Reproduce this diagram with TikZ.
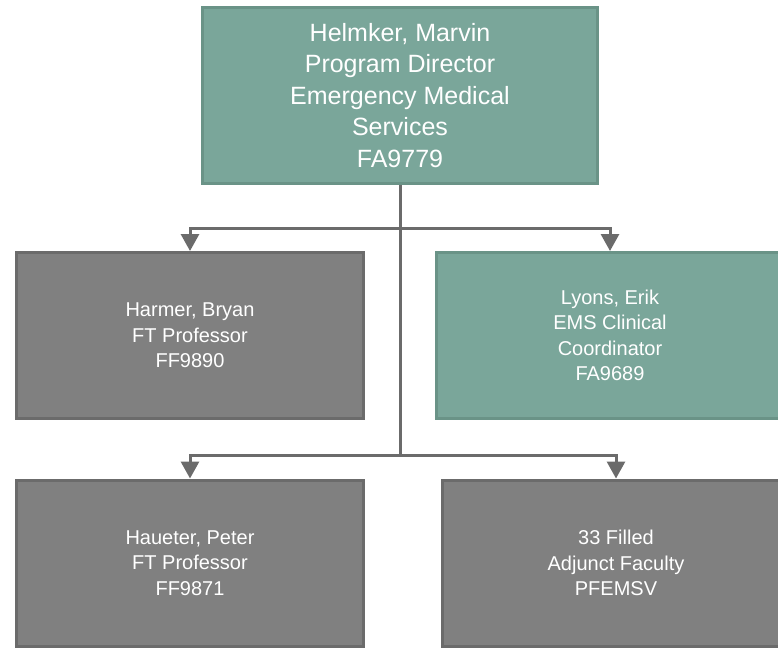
\documentclass[tikz,border=0pt]{standalone}
\usepackage{fontspec}
\setmainfont{Liberation Sans}
\usetikzlibrary{arrows.meta}
\definecolor{tealfill}{HTML}{7AA69A}
\definecolor{tealedge}{HTML}{6A9387}
\definecolor{grayfill}{HTML}{808080}
\definecolor{grayedge}{HTML}{6B6B6B}
\definecolor{linkcol}{HTML}{6B6B6B}
\tikzset{
  orgbox/.style={rectangle, line width=3pt, text=white, align=center, inner sep=0pt},
  tealbox/.style={orgbox, fill=tealfill, draw=tealedge},
  graybox/.style={orgbox, fill=grayfill, draw=grayedge},
  topfont/.style={font=\fontsize{25}{31.5}\selectfont},
  subfont/.style={font=\fontsize{20}{25.5}\selectfont},
  link/.style={draw=linkcol, line width=3pt},
  arrowlink/.style={link, -{Triangle[width=18pt,length=17pt]}}
}
\begin{document}
\begin{tikzpicture}[x=1pt,y=-1pt]
\useasboundingbox (0,0) rectangle (778,649);
\clip (0,0) rectangle (778,649);
\node[tealbox, topfont, minimum width=395pt, minimum height=176pt] (top) at (400,95.5)
  {Helmker, Marvin\\Program Director\\Emergency Medical\\Services\\FA9779};
\node[graybox, subfont, minimum width=347pt, minimum height=166pt] (harmer) at (190,335.5)
  {Harmer, Bryan\\FT Professor\\FF9890};
\node[tealbox, subfont, minimum width=347pt, minimum height=166pt] (lyons) at (610,335.5)
  {Lyons, Erik\\EMS Clinical\\Coordinator\\FA9689};
\node[graybox, subfont, minimum width=347pt, minimum height=166pt] (haueter) at (190,563)
  {Haueter, Peter\\FT Professor\\FF9871};
\node[graybox, subfont, minimum width=347pt, minimum height=166pt] (adjunct) at (616,563)
  {33 Filled\\Adjunct Faculty\\PFEMSV};
\coordinate (j1) at (400,228);
\coordinate (j2) at (400,455);
\draw[link] (top.south) -- (j2);
\draw[arrowlink] (j1) -| (harmer.north);
\draw[arrowlink] (j1) -| (lyons.north);
\draw[arrowlink] (j2) -| (haueter.north);
\draw[arrowlink] (j2) -| (adjunct.north);
\end{tikzpicture}
\end{document}
